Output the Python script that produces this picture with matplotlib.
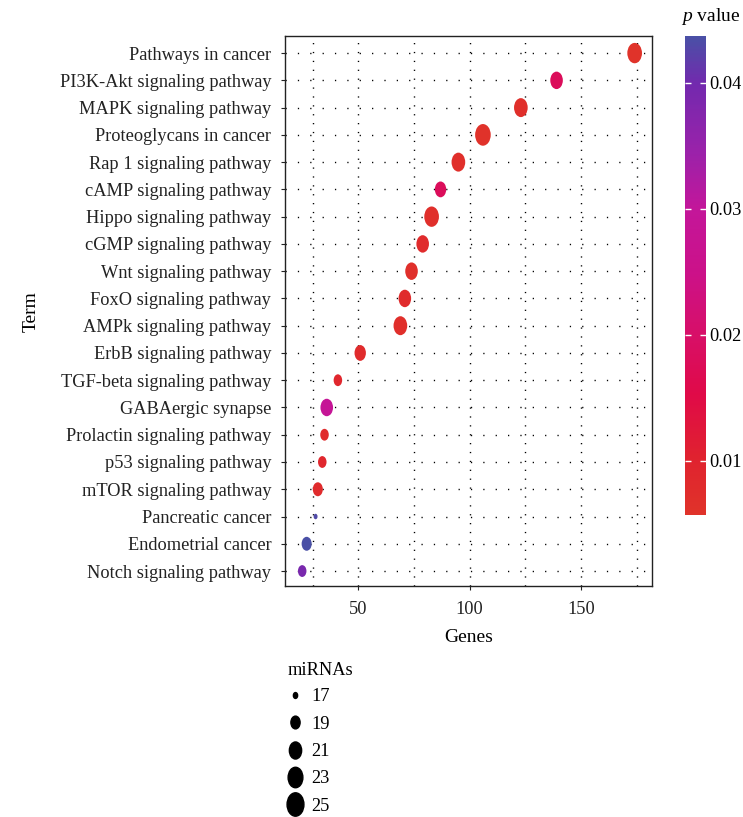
import numpy as np
import matplotlib
matplotlib.use("Agg")
import matplotlib.pyplot as plt
from matplotlib.path import Path
from matplotlib.transforms import Affine2D
from matplotlib.colors import LinearSegmentedColormap, Normalize
from matplotlib.lines import Line2D

plt.rcParams['font.family'] = ['Liberation Serif', 'DejaVu Serif']
plt.rcParams['mathtext.fontset'] = 'custom'
plt.rcParams['mathtext.it'] = 'Liberation Serif:italic'
plt.rcParams['mathtext.rm'] = 'Liberation Serif'

# data
terms = ["Pathways in cancer", "PI3K-Akt signaling pathway", "MAPK signaling pathway",
         "Proteoglycans in cancer", "Rap 1 signaling pathway", "cAMP signaling pathway",
         "Hippo signaling pathway", "cGMP signaling pathway", "Wnt signaling pathway",
         "FoxO signaling pathway", "AMPk signaling pathway", "ErbB signaling pathway",
         "TGF-beta signaling pathway", "GABAergic synapse", "Prolactin signaling pathway",
         "p53 signaling pathway", "mTOR signaling pathway", "Pancreatic cancer",
         "Endometrial cancer", "Notch signaling pathway"]
genes = [174, 139, 123, 106, 95, 87, 83, 79, 74, 71, 69, 51, 41, 36, 35, 34, 32, 31, 27, 25]
mirnas = [24, 22, 23, 25, 23, 21, 24, 22, 22, 22, 23, 21, 19, 22, 19, 19, 20, 17, 20, 19]
pvals = [0.0057, 0.018, 0.007, 0.006, 0.007, 0.018, 0.007, 0.008, 0.007, 0.008,
         0.007, 0.008, 0.009, 0.029, 0.008, 0.009, 0.008, 0.043, 0.0437, 0.039]
legend_sizes = [17, 19, 21, 23, 25]
cbar_ticks = [0.01, 0.02, 0.03, 0.04]

cmap = LinearSegmentedColormap.from_list("pv", [
    (0.0, "#E0332A"), (0.12, "#E0222F"), (0.25, "#E00A48"), (0.37, "#D80F66"),
    (0.5, "#CC1188"), (0.64, "#C3169A"), (0.76, "#9A22AA"), (0.9, "#7329AE"),
    (1.0, "#4A50A6")])
norm = Normalize(vmin=min(pvals), vmax=max(pvals))

# ellipse marker, taller than wide
ellipse = Path.unit_circle().transformed(Affine2D().scale(0.72, 1.0))


def msize(m):
    d_px = np.sqrt(30 + 55 * (np.asarray(m) - 17))
    return (d_px * 0.72) ** 2


fig = plt.figure(figsize=(7.43, 8.17), dpi=100)
ax = fig.add_axes([0.3836, 0.2827, 0.494, 0.673])

y = np.arange(len(terms))
for yy in y:
    ax.axhline(yy, color="black", lw=1.0, ls=(0, (0.9, 8)), zorder=0)
for xx in [30, 50, 75, 100, 125, 150, 175]:
    ax.axvline(xx, color="black", lw=1.0, ls=(0, (0.9, 5.5)), zorder=0)

ax.scatter(genes, y, s=msize(mirnas), c=pvals, cmap=cmap, norm=norm,
           marker=ellipse, linewidths=0, zorder=3)

ax.set_xlim(17.3, 181.8)
ax.set_ylim(len(terms) - 0.45, -0.62)
ax.set_yticks(y)
ax.set_yticklabels(terms)
ax.set_xticks([50, 100, 150])
ax.tick_params(labelsize=13.2, length=3, width=0.8, colors="#222222")
ax.tick_params(axis="x", pad=8)
ax.tick_params(axis="y", pad=7)
for sp in ax.spines.values():
    sp.set_linewidth(1.0)
    sp.set_color("#222222")
ax.set_xlabel("Genes", fontsize=14, labelpad=8)
ax.set_ylabel("Term", fontsize=14, labelpad=14)

# colour bar
cax = fig.add_axes([0.922, 0.3697, 0.0283, 0.586])
sm = plt.cm.ScalarMappable(norm=norm, cmap=cmap)
cb = fig.colorbar(sm, cax=cax, ticks=cbar_ticks)
cb.outline.set_visible(False)
cb.ax.set_yticklabels(["0.01", "0.02", "0.03", "0.04"])
cb.ax.tick_params(direction="in", color="white", length=4, width=1,
                  labelsize=13.2, left=True, right=True, pad=2)
fig.text(0.957, 0.980, r"$p$ value", ha="center", va="center", fontsize=14)

# size legend
handles = [Line2D([], [], ls="none", marker=ellipse, color="black",
                  markersize=np.sqrt(msize(m)) * 1.08) for m in legend_sizes]
leg = fig.legend(handles, [str(m) for m in legend_sizes], title="miRNAs",
                 loc="upper left", bbox_to_anchor=(0.377, 0.199), frameon=False,
                 fontsize=13.2, title_fontsize=13.2, handlelength=0.8,
                 handletextpad=0.5, labelspacing=0.56, borderaxespad=0)
leg._legend_box.align = "left"
leg._legend_box.sep = 7

fig.savefig("out.png", dpi=100)
